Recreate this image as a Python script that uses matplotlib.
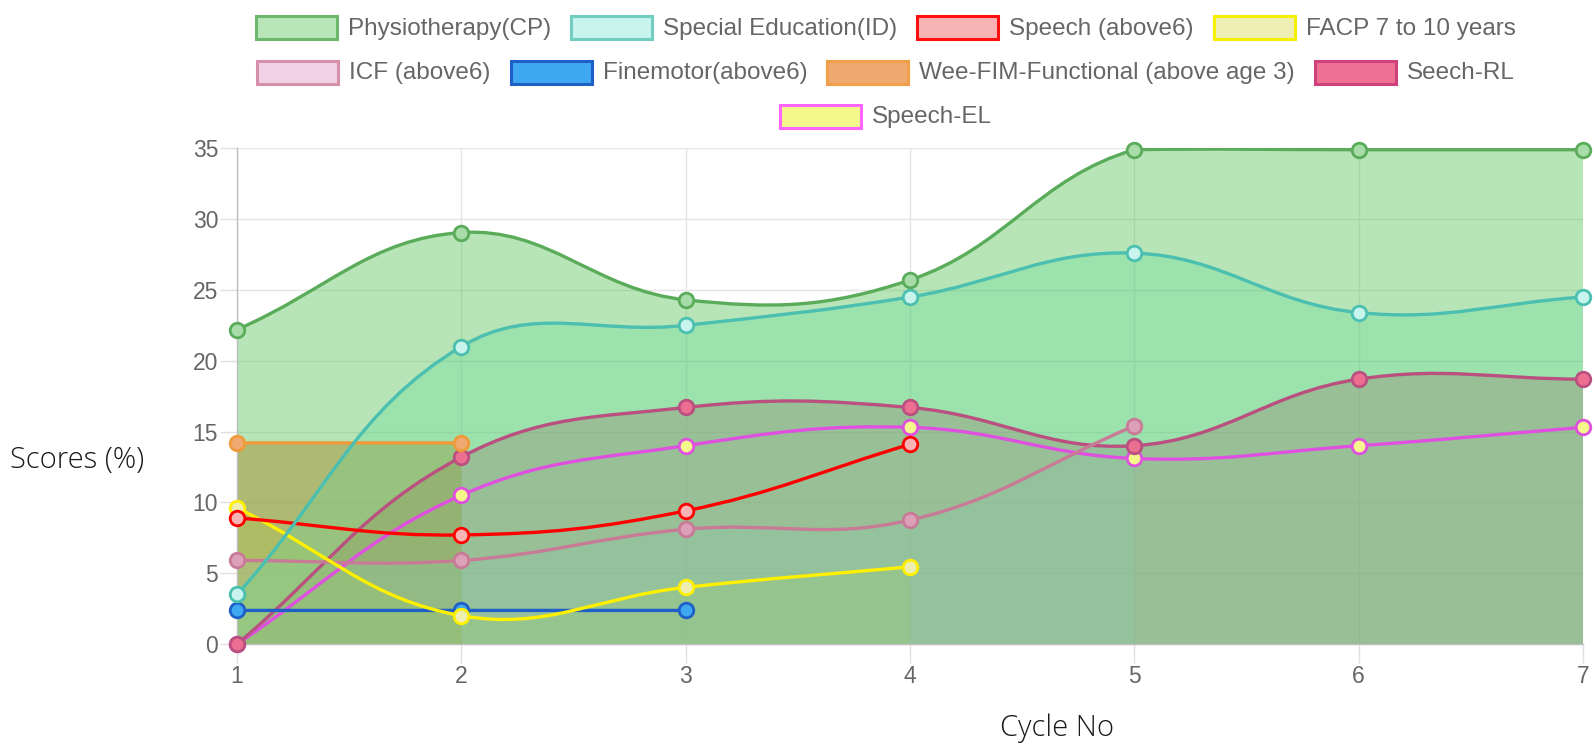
import numpy as np
import matplotlib
matplotlib.use('AGG')
import matplotlib.pyplot as plt
from matplotlib.path import Path
from matplotlib.patches import PathPatch, Rectangle

# chart data
cycles = [1, 2, 3, 4, 5, 6, 7]

physiotherapy = [22.2, 29.05, 24.3, 25.7, 34.9, 34.9, 34.9]
special_education = [3.5, 21.0, 22.5, 24.5, 27.6, 23.4, 24.5]
speech_above6 = [8.9, 7.7, 9.4, 14.1]
facp = [9.6, 2.0, 4.0, 5.45]
icf = [5.9, 5.9, 8.1, 8.75, 15.4]
finemotor = [2.37, 2.37, 2.37]
wee_fim = [14.2, 14.2]
seech_rl = [0, 13.2, 16.7, 16.7, 14.0, 18.7, 18.7]
speech_el = [0, 10.5, 14.0, 15.3, 13.1, 14.0, 15.3]

labels = ['Physiotherapy(CP)', 'Special Education(ID)', 'Speech (above6)',
          'FACP 7 to 10 years', 'ICF (above6)', 'Finemotor(above6)',
          'Wee-FIM-Functional (above age 3)', 'Seech-RL', 'Speech-EL']
series = [physiotherapy, special_education, speech_above6, facp, icf,
          finemotor, wee_fim, seech_rl, speech_el]

y_ticks = [0, 5, 10, 15, 20, 25, 30, 35]

# styles: line colour, marker face, legend face, legend edge, area fill (None = no fill)
styles = [
    dict(line='#5aac5a', face='#a8dca8', lface='#b8e6b8', ledge='#6cb86c', fill=(75/255, 192/255, 75/255, 0.4)),
    dict(line='#4bbfb0', face='#c9f4ee', lface='#c9f4ee', ledge='#72cfc0', fill=(112/255, 238/255, 205/255, 0.3)),
    dict(line='#ff0000', face='#f8b4b4', lface='#f8b4b4', ledge='#ff1010', fill=None),
    dict(line='#fff000', face='#eeeeb0', lface='#efefb4', ledge='#f5f000', fill=(1.0, 220/255, 0.0, 0.15)),
    dict(line='#c87a96', face='#dca0b8', lface='#f2d2e6', ledge='#d690ac', fill=(220/255, 197/255, 1.0, 0.3)),
    dict(line='#1f5fc8', face='#3ea8f0', lface='#3ea8f0', ledge='#1f5fc8', fill=None),
    dict(line='#f09a3a', face='#eea870', lface='#eea870', ledge='#f2a048', fill=(230/255, 120/255, 50/255, 0.55)),
    dict(line='#b9507f', face='#ec6f92', lface='#ee7092', ledge='#d0427e', fill=(235/255, 90/255, 140/255, 0.5)),
    dict(line='#e050e0', face='#f4f78a', lface='#f4f78a', ledge='#ff66ff', fill=None),
]


def spline_path(xs, ys, sx, sy, tension=0.4):
    # same control points as a Chart.js line with lineTension 0.4
    pts = np.column_stack([xs, ys]).astype(float)
    n = len(pts)
    prev_cp = pts.copy()
    next_cp = pts.copy()
    for i in range(n):
        p = pts[max(i - 1, 0)]
        c = pts[i]
        nx = pts[min(i + 1, n - 1)]
        d01 = np.hypot((c[0] - p[0]) * sx, (c[1] - p[1]) * sy)
        d12 = np.hypot((nx[0] - c[0]) * sx, (nx[1] - c[1]) * sy)
        tot = d01 + d12
        s01 = d01 / tot if tot else 0
        s12 = d12 / tot if tot else 0
        prev_cp[i] = c - tension * s01 * (nx - p)
        next_cp[i] = c + tension * s12 * (nx - p)
    for cp in (prev_cp, next_cp):
        cp[:, 0] = np.clip(cp[:, 0], 1, 7)
        cp[:, 1] = np.clip(cp[:, 1], 0, 35)
    verts = [pts[0]]
    codes = [Path.MOVETO]
    for i in range(n - 1):
        verts += [next_cp[i], prev_cp[i + 1], pts[i + 1]]
        codes += [Path.CURVE4] * 3
    return verts, codes


W, H = 1593, 750
fig = plt.figure(figsize=(W / 100, H / 100), dpi=100)
ax = fig.add_axes([237 / W, 106 / H, (1583 - 237) / W, (644 - 148.3) / H])
ax.set_xlim(1, 7)
ax.set_ylim(0, 35)

sx = (1583 - 237) / 6
sy = (644 - 148.3) / 35

n_series = len(series)
for i, (vals, st) in enumerate(zip(series, styles)):
    xs = cycles[:len(vals)]
    verts, codes = spline_path(xs, vals, sx, sy)
    # Chart.js paints the last dataset first, so index 0 ends up on top
    if st['fill'] is not None:
        fverts = verts + [(xs[-1], 0), (xs[0], 0), (xs[0], 0)]
        fcodes = codes + [Path.LINETO, Path.LINETO, Path.CLOSEPOLY]
        ax.add_patch(PathPatch(Path(fverts, fcodes), facecolor=st['fill'],
                               edgecolor='none', zorder=2 + (n_series - i) * 0.01))
    ax.add_patch(PathPatch(Path(verts, codes), facecolor='none', edgecolor=st['line'],
                           lw=2.4, zorder=4 + (n_series - i) * 0.1, capstyle='round'))
    ax.plot(xs, vals, linestyle='none', marker='o', markersize=10.5,
            markerfacecolor=st['face'], markeredgecolor=st['line'], markeredgewidth=2.0,
            zorder=4.05 + (n_series - i) * 0.1, clip_on=False)

# axes look
ax.set_xticks(cycles)
ax.set_yticks(y_ticks)
ax.grid(True, color='#e5e5e5', lw=1)
ax.set_axisbelow(True)
for s in ['top', 'right']:
    ax.spines[s].set_visible(False)
for s in ['left', 'bottom']:
    ax.spines[s].set_color('#bdbdbd')
    ax.spines[s].set_linewidth(1)
ax.tick_params(axis='x', length=14, width=1, color='#e0e0e0', pad=1,
               labelsize=16.5, labelcolor='#666666')
ax.tick_params(axis='y', length=12, width=1, color='#e0e0e0', pad=1.5,
               labelsize=16.5, labelcolor='#666666')
for lab in ax.get_xticklabels() + ax.get_yticklabels():
    lab.set_family('Liberation Sans')

fig.text(10 / W, 1 - 460 / H, 'Scores (%)', ha='left', va='center',
         fontsize=21, family='Open Sans', fontweight='light', color='#1a1a1a')
fig.text(1057 / W, 1 - 728 / H, 'Cycle No', ha='center', va='center',
         fontsize=21, family='Open Sans', fontweight='light', color='#1a1a1a')

# legend drawn like Chart.js: centred rows of boxes + labels
rows = [[0, 1, 2, 3], [4, 5, 6, 7], [8]]
row_y = [27.5, 72, 116]
box_w, box_h = 81, 23
gap_text, gap_item = 11, 20
centre_x = 886

renderer = fig.canvas.get_renderer()
texts = []
widths = []
for lab in labels:
    t = fig.text(0, 0, lab, fontsize=17.5, family='Liberation Sans',
                 color='#666666', ha='left', va='center')
    texts.append(t)
    widths.append(t.get_window_extent(renderer).width)

for row, yc in zip(rows, row_y):
    row_w = sum(box_w + gap_text + widths[k] for k in row) + gap_item * (len(row) - 1)
    x = centre_x - row_w / 2
    for k in row:
        st = styles[k]
        fig.patches.append(Rectangle((x / W, 1 - (yc + box_h / 2) / H), box_w / W, box_h / H,
                                     transform=fig.transFigure, facecolor=st['lface'],
                                     edgecolor=st['ledge'], lw=2.2))
        texts[k].set_position(((x + box_w + gap_text) / W, 1 - (yc + 1) / H))
        x += box_w + gap_text + widths[k] + gap_item

fig.savefig('out.png', dpi=100)
